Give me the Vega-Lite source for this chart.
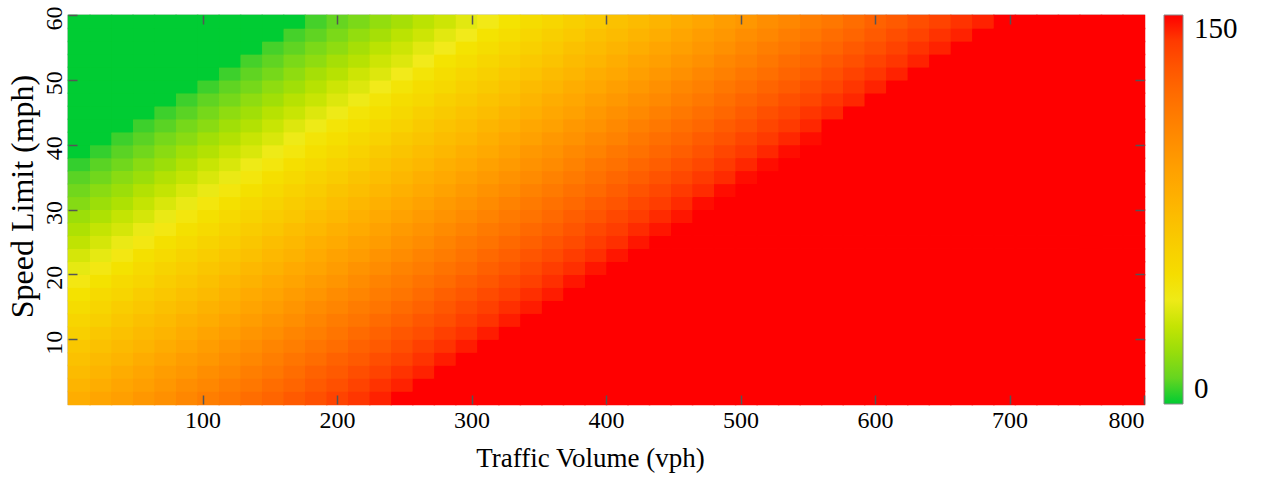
{
"$schema": "https://vega.github.io/schema/vega-lite/v6.json",
"autosize": "none",
"width": 1076,
"height": 389,
"padding": {"left": 68, "top": 15, "right": 117, "bottom": 74},
"background": "white",
"config": {
 "font": "Liberation Serif",
 "view": {"stroke": "#6e6e6e", "strokeWidth": 1.2},
 "axis": {"labelFont": "Liberation Serif", "titleFont": "Liberation Serif", "labelColor": "#000", "titleColor": "#000", "titleFontWeight": "normal", "domain": false, "grid": false, "tickColor": "#555", "tickWidth": 1.5, "tickSize": -9},
 "legend": {"labelFont": "Liberation Serif", "labelColor": "#000"}
},
"datasets": {"cells": [
{"x":8,"y":1,"v":82},{"x":24,"y":1,"v":87},{"x":40,"y":1,"v":91},{"x":56,"y":1,"v":96},{"x":72,"y":1,"v":100},{"x":88,"y":1,"v":105},{"x":104,"y":1,"v":110},{"x":120,"y":1,"v":114},{"x":136,"y":1,"v":119},{"x":152,"y":1,"v":123},{"x":168,"y":1,"v":128},{"x":184,"y":1,"v":132},{"x":200,"y":1,"v":137},{"x":216,"y":1,"v":141},{"x":232,"y":1,"v":146},{"x":248,"y":1,"v":150},{"x":264,"y":1,"v":150},{"x":280,"y":1,"v":150},{"x":296,"y":1,"v":150},{"x":312,"y":1,"v":150},{"x":328,"y":1,"v":150},{"x":344,"y":1,"v":150},{"x":360,"y":1,"v":150},{"x":376,"y":1,"v":150},{"x":392,"y":1,"v":150},{"x":408,"y":1,"v":150},{"x":424,"y":1,"v":150},{"x":440,"y":1,"v":150},{"x":456,"y":1,"v":150},{"x":472,"y":1,"v":150},{"x":488,"y":1,"v":150},{"x":504,"y":1,"v":150},{"x":520,"y":1,"v":150},{"x":536,"y":1,"v":150},{"x":552,"y":1,"v":150},{"x":568,"y":1,"v":150},{"x":584,"y":1,"v":150},{"x":600,"y":1,"v":150},{"x":616,"y":1,"v":150},{"x":632,"y":1,"v":150},{"x":648,"y":1,"v":150},{"x":664,"y":1,"v":150},{"x":680,"y":1,"v":150},{"x":696,"y":1,"v":150},{"x":712,"y":1,"v":150},{"x":728,"y":1,"v":150},{"x":744,"y":1,"v":150},{"x":760,"y":1,"v":150},{"x":776,"y":1,"v":150},{"x":792,"y":1,"v":150},
{"x":8,"y":3,"v":78},{"x":24,"y":3,"v":82},{"x":40,"y":3,"v":87},{"x":56,"y":3,"v":91},{"x":72,"y":3,"v":96},{"x":88,"y":3,"v":101},{"x":104,"y":3,"v":105},{"x":120,"y":3,"v":110},{"x":136,"y":3,"v":114},{"x":152,"y":3,"v":119},{"x":168,"y":3,"v":123},{"x":184,"y":3,"v":128},{"x":200,"y":3,"v":132},{"x":216,"y":3,"v":137},{"x":232,"y":3,"v":142},{"x":248,"y":3,"v":146},{"x":264,"y":3,"v":150},{"x":280,"y":3,"v":150},{"x":296,"y":3,"v":150},{"x":312,"y":3,"v":150},{"x":328,"y":3,"v":150},{"x":344,"y":3,"v":150},{"x":360,"y":3,"v":150},{"x":376,"y":3,"v":150},{"x":392,"y":3,"v":150},{"x":408,"y":3,"v":150},{"x":424,"y":3,"v":150},{"x":440,"y":3,"v":150},{"x":456,"y":3,"v":150},{"x":472,"y":3,"v":150},{"x":488,"y":3,"v":150},{"x":504,"y":3,"v":150},{"x":520,"y":3,"v":150},{"x":536,"y":3,"v":150},{"x":552,"y":3,"v":150},{"x":568,"y":3,"v":150},{"x":584,"y":3,"v":150},{"x":600,"y":3,"v":150},{"x":616,"y":3,"v":150},{"x":632,"y":3,"v":150},{"x":648,"y":3,"v":150},{"x":664,"y":3,"v":150},{"x":680,"y":3,"v":150},{"x":696,"y":3,"v":150},{"x":712,"y":3,"v":150},{"x":728,"y":3,"v":150},{"x":744,"y":3,"v":150},{"x":760,"y":3,"v":150},{"x":776,"y":3,"v":150},{"x":792,"y":3,"v":150},
{"x":8,"y":5,"v":73},{"x":24,"y":5,"v":78},{"x":40,"y":5,"v":83},{"x":56,"y":5,"v":87},{"x":72,"y":5,"v":92},{"x":88,"y":5,"v":96},{"x":104,"y":5,"v":101},{"x":120,"y":5,"v":105},{"x":136,"y":5,"v":110},{"x":152,"y":5,"v":114},{"x":168,"y":5,"v":119},{"x":184,"y":5,"v":124},{"x":200,"y":5,"v":128},{"x":216,"y":5,"v":133},{"x":232,"y":5,"v":137},{"x":248,"y":5,"v":142},{"x":264,"y":5,"v":146},{"x":280,"y":5,"v":150},{"x":296,"y":5,"v":150},{"x":312,"y":5,"v":150},{"x":328,"y":5,"v":150},{"x":344,"y":5,"v":150},{"x":360,"y":5,"v":150},{"x":376,"y":5,"v":150},{"x":392,"y":5,"v":150},{"x":408,"y":5,"v":150},{"x":424,"y":5,"v":150},{"x":440,"y":5,"v":150},{"x":456,"y":5,"v":150},{"x":472,"y":5,"v":150},{"x":488,"y":5,"v":150},{"x":504,"y":5,"v":150},{"x":520,"y":5,"v":150},{"x":536,"y":5,"v":150},{"x":552,"y":5,"v":150},{"x":568,"y":5,"v":150},{"x":584,"y":5,"v":150},{"x":600,"y":5,"v":150},{"x":616,"y":5,"v":150},{"x":632,"y":5,"v":150},{"x":648,"y":5,"v":150},{"x":664,"y":5,"v":150},{"x":680,"y":5,"v":150},{"x":696,"y":5,"v":150},{"x":712,"y":5,"v":150},{"x":728,"y":5,"v":150},{"x":744,"y":5,"v":150},{"x":760,"y":5,"v":150},{"x":776,"y":5,"v":150},{"x":792,"y":5,"v":150},
{"x":8,"y":7,"v":69},{"x":24,"y":7,"v":74},{"x":40,"y":7,"v":78},{"x":56,"y":7,"v":83},{"x":72,"y":7,"v":87},{"x":88,"y":7,"v":92},{"x":104,"y":7,"v":96},{"x":120,"y":7,"v":101},{"x":136,"y":7,"v":105},{"x":152,"y":7,"v":110},{"x":168,"y":7,"v":115},{"x":184,"y":7,"v":119},{"x":200,"y":7,"v":124},{"x":216,"y":7,"v":128},{"x":232,"y":7,"v":133},{"x":248,"y":7,"v":137},{"x":264,"y":7,"v":142},{"x":280,"y":7,"v":147},{"x":296,"y":7,"v":150},{"x":312,"y":7,"v":150},{"x":328,"y":7,"v":150},{"x":344,"y":7,"v":150},{"x":360,"y":7,"v":150},{"x":376,"y":7,"v":150},{"x":392,"y":7,"v":150},{"x":408,"y":7,"v":150},{"x":424,"y":7,"v":150},{"x":440,"y":7,"v":150},{"x":456,"y":7,"v":150},{"x":472,"y":7,"v":150},{"x":488,"y":7,"v":150},{"x":504,"y":7,"v":150},{"x":520,"y":7,"v":150},{"x":536,"y":7,"v":150},{"x":552,"y":7,"v":150},{"x":568,"y":7,"v":150},{"x":584,"y":7,"v":150},{"x":600,"y":7,"v":150},{"x":616,"y":7,"v":150},{"x":632,"y":7,"v":150},{"x":648,"y":7,"v":150},{"x":664,"y":7,"v":150},{"x":680,"y":7,"v":150},{"x":696,"y":7,"v":150},{"x":712,"y":7,"v":150},{"x":728,"y":7,"v":150},{"x":744,"y":7,"v":150},{"x":760,"y":7,"v":150},{"x":776,"y":7,"v":150},{"x":792,"y":7,"v":150},
{"x":8,"y":9,"v":65},{"x":24,"y":9,"v":69},{"x":40,"y":9,"v":74},{"x":56,"y":9,"v":78},{"x":72,"y":9,"v":83},{"x":88,"y":9,"v":87},{"x":104,"y":9,"v":92},{"x":120,"y":9,"v":97},{"x":136,"y":9,"v":101},{"x":152,"y":9,"v":106},{"x":168,"y":9,"v":110},{"x":184,"y":9,"v":115},{"x":200,"y":9,"v":119},{"x":216,"y":9,"v":124},{"x":232,"y":9,"v":128},{"x":248,"y":9,"v":133},{"x":264,"y":9,"v":138},{"x":280,"y":9,"v":142},{"x":296,"y":9,"v":147},{"x":312,"y":9,"v":150},{"x":328,"y":9,"v":150},{"x":344,"y":9,"v":150},{"x":360,"y":9,"v":150},{"x":376,"y":9,"v":150},{"x":392,"y":9,"v":150},{"x":408,"y":9,"v":150},{"x":424,"y":9,"v":150},{"x":440,"y":9,"v":150},{"x":456,"y":9,"v":150},{"x":472,"y":9,"v":150},{"x":488,"y":9,"v":150},{"x":504,"y":9,"v":150},{"x":520,"y":9,"v":150},{"x":536,"y":9,"v":150},{"x":552,"y":9,"v":150},{"x":568,"y":9,"v":150},{"x":584,"y":9,"v":150},{"x":600,"y":9,"v":150},{"x":616,"y":9,"v":150},{"x":632,"y":9,"v":150},{"x":648,"y":9,"v":150},{"x":664,"y":9,"v":150},{"x":680,"y":9,"v":150},{"x":696,"y":9,"v":150},{"x":712,"y":9,"v":150},{"x":728,"y":9,"v":150},{"x":744,"y":9,"v":150},{"x":760,"y":9,"v":150},{"x":776,"y":9,"v":150},{"x":792,"y":9,"v":150},
{"x":8,"y":11,"v":60},{"x":24,"y":11,"v":65},{"x":40,"y":11,"v":69},{"x":56,"y":11,"v":74},{"x":72,"y":11,"v":78},{"x":88,"y":11,"v":83},{"x":104,"y":11,"v":88},{"x":120,"y":11,"v":92},{"x":136,"y":11,"v":97},{"x":152,"y":11,"v":101},{"x":168,"y":11,"v":106},{"x":184,"y":11,"v":110},{"x":200,"y":11,"v":115},{"x":216,"y":11,"v":120},{"x":232,"y":11,"v":124},{"x":248,"y":11,"v":129},{"x":264,"y":11,"v":133},{"x":280,"y":11,"v":138},{"x":296,"y":11,"v":142},{"x":312,"y":11,"v":147},{"x":328,"y":11,"v":150},{"x":344,"y":11,"v":150},{"x":360,"y":11,"v":150},{"x":376,"y":11,"v":150},{"x":392,"y":11,"v":150},{"x":408,"y":11,"v":150},{"x":424,"y":11,"v":150},{"x":440,"y":11,"v":150},{"x":456,"y":11,"v":150},{"x":472,"y":11,"v":150},{"x":488,"y":11,"v":150},{"x":504,"y":11,"v":150},{"x":520,"y":11,"v":150},{"x":536,"y":11,"v":150},{"x":552,"y":11,"v":150},{"x":568,"y":11,"v":150},{"x":584,"y":11,"v":150},{"x":600,"y":11,"v":150},{"x":616,"y":11,"v":150},{"x":632,"y":11,"v":150},{"x":648,"y":11,"v":150},{"x":664,"y":11,"v":150},{"x":680,"y":11,"v":150},{"x":696,"y":11,"v":150},{"x":712,"y":11,"v":150},{"x":728,"y":11,"v":150},{"x":744,"y":11,"v":150},{"x":760,"y":11,"v":150},{"x":776,"y":11,"v":150},{"x":792,"y":11,"v":150},
{"x":8,"y":13,"v":56},{"x":24,"y":13,"v":60},{"x":40,"y":13,"v":65},{"x":56,"y":13,"v":70},{"x":72,"y":13,"v":74},{"x":88,"y":13,"v":79},{"x":104,"y":13,"v":83},{"x":120,"y":13,"v":88},{"x":136,"y":13,"v":92},{"x":152,"y":13,"v":97},{"x":168,"y":13,"v":101},{"x":184,"y":13,"v":106},{"x":200,"y":13,"v":111},{"x":216,"y":13,"v":115},{"x":232,"y":13,"v":120},{"x":248,"y":13,"v":124},{"x":264,"y":13,"v":129},{"x":280,"y":13,"v":133},{"x":296,"y":13,"v":138},{"x":312,"y":13,"v":142},{"x":328,"y":13,"v":147},{"x":344,"y":13,"v":150},{"x":360,"y":13,"v":150},{"x":376,"y":13,"v":150},{"x":392,"y":13,"v":150},{"x":408,"y":13,"v":150},{"x":424,"y":13,"v":150},{"x":440,"y":13,"v":150},{"x":456,"y":13,"v":150},{"x":472,"y":13,"v":150},{"x":488,"y":13,"v":150},{"x":504,"y":13,"v":150},{"x":520,"y":13,"v":150},{"x":536,"y":13,"v":150},{"x":552,"y":13,"v":150},{"x":568,"y":13,"v":150},{"x":584,"y":13,"v":150},{"x":600,"y":13,"v":150},{"x":616,"y":13,"v":150},{"x":632,"y":13,"v":150},{"x":648,"y":13,"v":150},{"x":664,"y":13,"v":150},{"x":680,"y":13,"v":150},{"x":696,"y":13,"v":150},{"x":712,"y":13,"v":150},{"x":728,"y":13,"v":150},{"x":744,"y":13,"v":150},{"x":760,"y":13,"v":150},{"x":776,"y":13,"v":150},{"x":792,"y":13,"v":150},
{"x":8,"y":15,"v":51},{"x":24,"y":15,"v":56},{"x":40,"y":15,"v":61},{"x":56,"y":15,"v":65},{"x":72,"y":15,"v":70},{"x":88,"y":15,"v":74},{"x":104,"y":15,"v":79},{"x":120,"y":15,"v":83},{"x":136,"y":15,"v":88},{"x":152,"y":15,"v":92},{"x":168,"y":15,"v":97},{"x":184,"y":15,"v":102},{"x":200,"y":15,"v":106},{"x":216,"y":15,"v":111},{"x":232,"y":15,"v":115},{"x":248,"y":15,"v":120},{"x":264,"y":15,"v":124},{"x":280,"y":15,"v":129},{"x":296,"y":15,"v":134},{"x":312,"y":15,"v":138},{"x":328,"y":15,"v":143},{"x":344,"y":15,"v":147},{"x":360,"y":15,"v":150},{"x":376,"y":15,"v":150},{"x":392,"y":15,"v":150},{"x":408,"y":15,"v":150},{"x":424,"y":15,"v":150},{"x":440,"y":15,"v":150},{"x":456,"y":15,"v":150},{"x":472,"y":15,"v":150},{"x":488,"y":15,"v":150},{"x":504,"y":15,"v":150},{"x":520,"y":15,"v":150},{"x":536,"y":15,"v":150},{"x":552,"y":15,"v":150},{"x":568,"y":15,"v":150},{"x":584,"y":15,"v":150},{"x":600,"y":15,"v":150},{"x":616,"y":15,"v":150},{"x":632,"y":15,"v":150},{"x":648,"y":15,"v":150},{"x":664,"y":15,"v":150},{"x":680,"y":15,"v":150},{"x":696,"y":15,"v":150},{"x":712,"y":15,"v":150},{"x":728,"y":15,"v":150},{"x":744,"y":15,"v":150},{"x":760,"y":15,"v":150},{"x":776,"y":15,"v":150},{"x":792,"y":15,"v":150},
{"x":8,"y":17,"v":47},{"x":24,"y":17,"v":52},{"x":40,"y":17,"v":56},{"x":56,"y":17,"v":61},{"x":72,"y":17,"v":65},{"x":88,"y":17,"v":70},{"x":104,"y":17,"v":74},{"x":120,"y":17,"v":79},{"x":136,"y":17,"v":84},{"x":152,"y":17,"v":88},{"x":168,"y":17,"v":93},{"x":184,"y":17,"v":97},{"x":200,"y":17,"v":102},{"x":216,"y":17,"v":106},{"x":232,"y":17,"v":111},{"x":248,"y":17,"v":115},{"x":264,"y":17,"v":120},{"x":280,"y":17,"v":125},{"x":296,"y":17,"v":129},{"x":312,"y":17,"v":134},{"x":328,"y":17,"v":138},{"x":344,"y":17,"v":143},{"x":360,"y":17,"v":147},{"x":376,"y":17,"v":150},{"x":392,"y":17,"v":150},{"x":408,"y":17,"v":150},{"x":424,"y":17,"v":150},{"x":440,"y":17,"v":150},{"x":456,"y":17,"v":150},{"x":472,"y":17,"v":150},{"x":488,"y":17,"v":150},{"x":504,"y":17,"v":150},{"x":520,"y":17,"v":150},{"x":536,"y":17,"v":150},{"x":552,"y":17,"v":150},{"x":568,"y":17,"v":150},{"x":584,"y":17,"v":150},{"x":600,"y":17,"v":150},{"x":616,"y":17,"v":150},{"x":632,"y":17,"v":150},{"x":648,"y":17,"v":150},{"x":664,"y":17,"v":150},{"x":680,"y":17,"v":150},{"x":696,"y":17,"v":150},{"x":712,"y":17,"v":150},{"x":728,"y":17,"v":150},{"x":744,"y":17,"v":150},{"x":760,"y":17,"v":150},{"x":776,"y":17,"v":150},{"x":792,"y":17,"v":150},
{"x":8,"y":19,"v":43},{"x":24,"y":19,"v":47},{"x":40,"y":19,"v":52},{"x":56,"y":19,"v":56},{"x":72,"y":19,"v":61},{"x":88,"y":19,"v":65},{"x":104,"y":19,"v":70},{"x":120,"y":19,"v":75},{"x":136,"y":19,"v":79},{"x":152,"y":19,"v":84},{"x":168,"y":19,"v":88},{"x":184,"y":19,"v":93},{"x":200,"y":19,"v":97},{"x":216,"y":19,"v":102},{"x":232,"y":19,"v":107},{"x":248,"y":19,"v":111},{"x":264,"y":19,"v":116},{"x":280,"y":19,"v":120},{"x":296,"y":19,"v":125},{"x":312,"y":19,"v":129},{"x":328,"y":19,"v":134},{"x":344,"y":19,"v":138},{"x":360,"y":19,"v":143},{"x":376,"y":19,"v":148},{"x":392,"y":19,"v":150},{"x":408,"y":19,"v":150},{"x":424,"y":19,"v":150},{"x":440,"y":19,"v":150},{"x":456,"y":19,"v":150},{"x":472,"y":19,"v":150},{"x":488,"y":19,"v":150},{"x":504,"y":19,"v":150},{"x":520,"y":19,"v":150},{"x":536,"y":19,"v":150},{"x":552,"y":19,"v":150},{"x":568,"y":19,"v":150},{"x":584,"y":19,"v":150},{"x":600,"y":19,"v":150},{"x":616,"y":19,"v":150},{"x":632,"y":19,"v":150},{"x":648,"y":19,"v":150},{"x":664,"y":19,"v":150},{"x":680,"y":19,"v":150},{"x":696,"y":19,"v":150},{"x":712,"y":19,"v":150},{"x":728,"y":19,"v":150},{"x":744,"y":19,"v":150},{"x":760,"y":19,"v":150},{"x":776,"y":19,"v":150},{"x":792,"y":19,"v":150},
{"x":8,"y":21,"v":38},{"x":24,"y":21,"v":43},{"x":40,"y":21,"v":47},{"x":56,"y":21,"v":52},{"x":72,"y":21,"v":57},{"x":88,"y":21,"v":61},{"x":104,"y":21,"v":66},{"x":120,"y":21,"v":70},{"x":136,"y":21,"v":75},{"x":152,"y":21,"v":79},{"x":168,"y":21,"v":84},{"x":184,"y":21,"v":88},{"x":200,"y":21,"v":93},{"x":216,"y":21,"v":98},{"x":232,"y":21,"v":102},{"x":248,"y":21,"v":107},{"x":264,"y":21,"v":111},{"x":280,"y":21,"v":116},{"x":296,"y":21,"v":120},{"x":312,"y":21,"v":125},{"x":328,"y":21,"v":129},{"x":344,"y":21,"v":134},{"x":360,"y":21,"v":139},{"x":376,"y":21,"v":143},{"x":392,"y":21,"v":148},{"x":408,"y":21,"v":150},{"x":424,"y":21,"v":150},{"x":440,"y":21,"v":150},{"x":456,"y":21,"v":150},{"x":472,"y":21,"v":150},{"x":488,"y":21,"v":150},{"x":504,"y":21,"v":150},{"x":520,"y":21,"v":150},{"x":536,"y":21,"v":150},{"x":552,"y":21,"v":150},{"x":568,"y":21,"v":150},{"x":584,"y":21,"v":150},{"x":600,"y":21,"v":150},{"x":616,"y":21,"v":150},{"x":632,"y":21,"v":150},{"x":648,"y":21,"v":150},{"x":664,"y":21,"v":150},{"x":680,"y":21,"v":150},{"x":696,"y":21,"v":150},{"x":712,"y":21,"v":150},{"x":728,"y":21,"v":150},{"x":744,"y":21,"v":150},{"x":760,"y":21,"v":150},{"x":776,"y":21,"v":150},{"x":792,"y":21,"v":150},
{"x":8,"y":23,"v":34},{"x":24,"y":23,"v":38},{"x":40,"y":23,"v":43},{"x":56,"y":23,"v":48},{"x":72,"y":23,"v":52},{"x":88,"y":23,"v":57},{"x":104,"y":23,"v":61},{"x":120,"y":23,"v":66},{"x":136,"y":23,"v":70},{"x":152,"y":23,"v":75},{"x":168,"y":23,"v":79},{"x":184,"y":23,"v":84},{"x":200,"y":23,"v":89},{"x":216,"y":23,"v":93},{"x":232,"y":23,"v":98},{"x":248,"y":23,"v":102},{"x":264,"y":23,"v":107},{"x":280,"y":23,"v":111},{"x":296,"y":23,"v":116},{"x":312,"y":23,"v":121},{"x":328,"y":23,"v":125},{"x":344,"y":23,"v":130},{"x":360,"y":23,"v":134},{"x":376,"y":23,"v":139},{"x":392,"y":23,"v":143},{"x":408,"y":23,"v":148},{"x":424,"y":23,"v":150},{"x":440,"y":23,"v":150},{"x":456,"y":23,"v":150},{"x":472,"y":23,"v":150},{"x":488,"y":23,"v":150},{"x":504,"y":23,"v":150},{"x":520,"y":23,"v":150},{"x":536,"y":23,"v":150},{"x":552,"y":23,"v":150},{"x":568,"y":23,"v":150},{"x":584,"y":23,"v":150},{"x":600,"y":23,"v":150},{"x":616,"y":23,"v":150},{"x":632,"y":23,"v":150},{"x":648,"y":23,"v":150},{"x":664,"y":23,"v":150},{"x":680,"y":23,"v":150},{"x":696,"y":23,"v":150},{"x":712,"y":23,"v":150},{"x":728,"y":23,"v":150},{"x":744,"y":23,"v":150},{"x":760,"y":23,"v":150},{"x":776,"y":23,"v":150},{"x":792,"y":23,"v":150},
{"x":8,"y":25,"v":29},{"x":24,"y":25,"v":34},{"x":40,"y":25,"v":39},{"x":56,"y":25,"v":43},{"x":72,"y":25,"v":48},{"x":88,"y":25,"v":52},{"x":104,"y":25,"v":57},{"x":120,"y":25,"v":61},{"x":136,"y":25,"v":66},{"x":152,"y":25,"v":71},{"x":168,"y":25,"v":75},{"x":184,"y":25,"v":80},{"x":200,"y":25,"v":84},{"x":216,"y":25,"v":89},{"x":232,"y":25,"v":93},{"x":248,"y":25,"v":98},{"x":264,"y":25,"v":102},{"x":280,"y":25,"v":107},{"x":296,"y":25,"v":112},{"x":312,"y":25,"v":116},{"x":328,"y":25,"v":121},{"x":344,"y":25,"v":125},{"x":360,"y":25,"v":130},{"x":376,"y":25,"v":134},{"x":392,"y":25,"v":139},{"x":408,"y":25,"v":143},{"x":424,"y":25,"v":148},{"x":440,"y":25,"v":150},{"x":456,"y":25,"v":150},{"x":472,"y":25,"v":150},{"x":488,"y":25,"v":150},{"x":504,"y":25,"v":150},{"x":520,"y":25,"v":150},{"x":536,"y":25,"v":150},{"x":552,"y":25,"v":150},{"x":568,"y":25,"v":150},{"x":584,"y":25,"v":150},{"x":600,"y":25,"v":150},{"x":616,"y":25,"v":150},{"x":632,"y":25,"v":150},{"x":648,"y":25,"v":150},{"x":664,"y":25,"v":150},{"x":680,"y":25,"v":150},{"x":696,"y":25,"v":150},{"x":712,"y":25,"v":150},{"x":728,"y":25,"v":150},{"x":744,"y":25,"v":150},{"x":760,"y":25,"v":150},{"x":776,"y":25,"v":150},{"x":792,"y":25,"v":150},
{"x":8,"y":27,"v":25},{"x":24,"y":27,"v":30},{"x":40,"y":27,"v":34},{"x":56,"y":27,"v":39},{"x":72,"y":27,"v":43},{"x":88,"y":27,"v":48},{"x":104,"y":27,"v":52},{"x":120,"y":27,"v":57},{"x":136,"y":27,"v":62},{"x":152,"y":27,"v":66},{"x":168,"y":27,"v":71},{"x":184,"y":27,"v":75},{"x":200,"y":27,"v":80},{"x":216,"y":27,"v":84},{"x":232,"y":27,"v":89},{"x":248,"y":27,"v":94},{"x":264,"y":27,"v":98},{"x":280,"y":27,"v":103},{"x":296,"y":27,"v":107},{"x":312,"y":27,"v":112},{"x":328,"y":27,"v":116},{"x":344,"y":27,"v":121},{"x":360,"y":27,"v":125},{"x":376,"y":27,"v":130},{"x":392,"y":27,"v":135},{"x":408,"y":27,"v":139},{"x":424,"y":27,"v":144},{"x":440,"y":27,"v":148},{"x":456,"y":27,"v":150},{"x":472,"y":27,"v":150},{"x":488,"y":27,"v":150},{"x":504,"y":27,"v":150},{"x":520,"y":27,"v":150},{"x":536,"y":27,"v":150},{"x":552,"y":27,"v":150},{"x":568,"y":27,"v":150},{"x":584,"y":27,"v":150},{"x":600,"y":27,"v":150},{"x":616,"y":27,"v":150},{"x":632,"y":27,"v":150},{"x":648,"y":27,"v":150},{"x":664,"y":27,"v":150},{"x":680,"y":27,"v":150},{"x":696,"y":27,"v":150},{"x":712,"y":27,"v":150},{"x":728,"y":27,"v":150},{"x":744,"y":27,"v":150},{"x":760,"y":27,"v":150},{"x":776,"y":27,"v":150},{"x":792,"y":27,"v":150},
{"x":8,"y":29,"v":21},{"x":24,"y":29,"v":25},{"x":40,"y":29,"v":30},{"x":56,"y":29,"v":34},{"x":72,"y":29,"v":39},{"x":88,"y":29,"v":44},{"x":104,"y":29,"v":48},{"x":120,"y":29,"v":53},{"x":136,"y":29,"v":57},{"x":152,"y":29,"v":62},{"x":168,"y":29,"v":66},{"x":184,"y":29,"v":71},{"x":200,"y":29,"v":75},{"x":216,"y":29,"v":80},{"x":232,"y":29,"v":85},{"x":248,"y":29,"v":89},{"x":264,"y":29,"v":94},{"x":280,"y":29,"v":98},{"x":296,"y":29,"v":103},{"x":312,"y":29,"v":107},{"x":328,"y":29,"v":112},{"x":344,"y":29,"v":116},{"x":360,"y":29,"v":121},{"x":376,"y":29,"v":126},{"x":392,"y":29,"v":130},{"x":408,"y":29,"v":135},{"x":424,"y":29,"v":139},{"x":440,"y":29,"v":144},{"x":456,"y":29,"v":148},{"x":472,"y":29,"v":150},{"x":488,"y":29,"v":150},{"x":504,"y":29,"v":150},{"x":520,"y":29,"v":150},{"x":536,"y":29,"v":150},{"x":552,"y":29,"v":150},{"x":568,"y":29,"v":150},{"x":584,"y":29,"v":150},{"x":600,"y":29,"v":150},{"x":616,"y":29,"v":150},{"x":632,"y":29,"v":150},{"x":648,"y":29,"v":150},{"x":664,"y":29,"v":150},{"x":680,"y":29,"v":150},{"x":696,"y":29,"v":150},{"x":712,"y":29,"v":150},{"x":728,"y":29,"v":150},{"x":744,"y":29,"v":150},{"x":760,"y":29,"v":150},{"x":776,"y":29,"v":150},{"x":792,"y":29,"v":150},
{"x":8,"y":31,"v":16},{"x":24,"y":31,"v":21},{"x":40,"y":31,"v":25},{"x":56,"y":31,"v":30},{"x":72,"y":31,"v":35},{"x":88,"y":31,"v":39},{"x":104,"y":31,"v":44},{"x":120,"y":31,"v":48},{"x":136,"y":31,"v":53},{"x":152,"y":31,"v":57},{"x":168,"y":31,"v":62},{"x":184,"y":31,"v":66},{"x":200,"y":31,"v":71},{"x":216,"y":31,"v":76},{"x":232,"y":31,"v":80},{"x":248,"y":31,"v":85},{"x":264,"y":31,"v":89},{"x":280,"y":31,"v":94},{"x":296,"y":31,"v":98},{"x":312,"y":31,"v":103},{"x":328,"y":31,"v":108},{"x":344,"y":31,"v":112},{"x":360,"y":31,"v":117},{"x":376,"y":31,"v":121},{"x":392,"y":31,"v":126},{"x":408,"y":31,"v":130},{"x":424,"y":31,"v":135},{"x":440,"y":31,"v":139},{"x":456,"y":31,"v":144},{"x":472,"y":31,"v":149},{"x":488,"y":31,"v":150},{"x":504,"y":31,"v":150},{"x":520,"y":31,"v":150},{"x":536,"y":31,"v":150},{"x":552,"y":31,"v":150},{"x":568,"y":31,"v":150},{"x":584,"y":31,"v":150},{"x":600,"y":31,"v":150},{"x":616,"y":31,"v":150},{"x":632,"y":31,"v":150},{"x":648,"y":31,"v":150},{"x":664,"y":31,"v":150},{"x":680,"y":31,"v":150},{"x":696,"y":31,"v":150},{"x":712,"y":31,"v":150},{"x":728,"y":31,"v":150},{"x":744,"y":31,"v":150},{"x":760,"y":31,"v":150},{"x":776,"y":31,"v":150},{"x":792,"y":31,"v":150},
{"x":8,"y":33,"v":12},{"x":24,"y":33,"v":17},{"x":40,"y":33,"v":21},{"x":56,"y":33,"v":26},{"x":72,"y":33,"v":30},{"x":88,"y":33,"v":35},{"x":104,"y":33,"v":39},{"x":120,"y":33,"v":44},{"x":136,"y":33,"v":48},{"x":152,"y":33,"v":53},{"x":168,"y":33,"v":58},{"x":184,"y":33,"v":62},{"x":200,"y":33,"v":67},{"x":216,"y":33,"v":71},{"x":232,"y":33,"v":76},{"x":248,"y":33,"v":80},{"x":264,"y":33,"v":85},{"x":280,"y":33,"v":89},{"x":296,"y":33,"v":94},{"x":312,"y":33,"v":99},{"x":328,"y":33,"v":103},{"x":344,"y":33,"v":108},{"x":360,"y":33,"v":112},{"x":376,"y":33,"v":117},{"x":392,"y":33,"v":121},{"x":408,"y":33,"v":126},{"x":424,"y":33,"v":131},{"x":440,"y":33,"v":135},{"x":456,"y":33,"v":140},{"x":472,"y":33,"v":144},{"x":488,"y":33,"v":149},{"x":504,"y":33,"v":150},{"x":520,"y":33,"v":150},{"x":536,"y":33,"v":150},{"x":552,"y":33,"v":150},{"x":568,"y":33,"v":150},{"x":584,"y":33,"v":150},{"x":600,"y":33,"v":150},{"x":616,"y":33,"v":150},{"x":632,"y":33,"v":150},{"x":648,"y":33,"v":150},{"x":664,"y":33,"v":150},{"x":680,"y":33,"v":150},{"x":696,"y":33,"v":150},{"x":712,"y":33,"v":150},{"x":728,"y":33,"v":150},{"x":744,"y":33,"v":150},{"x":760,"y":33,"v":150},{"x":776,"y":33,"v":150},{"x":792,"y":33,"v":150},
{"x":8,"y":35,"v":8},{"x":24,"y":35,"v":12},{"x":40,"y":35,"v":17},{"x":56,"y":35,"v":21},{"x":72,"y":35,"v":26},{"x":88,"y":35,"v":30},{"x":104,"y":35,"v":35},{"x":120,"y":35,"v":39},{"x":136,"y":35,"v":44},{"x":152,"y":35,"v":49},{"x":168,"y":35,"v":53},{"x":184,"y":35,"v":58},{"x":200,"y":35,"v":62},{"x":216,"y":35,"v":67},{"x":232,"y":35,"v":71},{"x":248,"y":35,"v":76},{"x":264,"y":35,"v":81},{"x":280,"y":35,"v":85},{"x":296,"y":35,"v":90},{"x":312,"y":35,"v":94},{"x":328,"y":35,"v":99},{"x":344,"y":35,"v":103},{"x":360,"y":35,"v":108},{"x":376,"y":35,"v":112},{"x":392,"y":35,"v":117},{"x":408,"y":35,"v":122},{"x":424,"y":35,"v":126},{"x":440,"y":35,"v":131},{"x":456,"y":35,"v":135},{"x":472,"y":35,"v":140},{"x":488,"y":35,"v":144},{"x":504,"y":35,"v":149},{"x":520,"y":35,"v":150},{"x":536,"y":35,"v":150},{"x":552,"y":35,"v":150},{"x":568,"y":35,"v":150},{"x":584,"y":35,"v":150},{"x":600,"y":35,"v":150},{"x":616,"y":35,"v":150},{"x":632,"y":35,"v":150},{"x":648,"y":35,"v":150},{"x":664,"y":35,"v":150},{"x":680,"y":35,"v":150},{"x":696,"y":35,"v":150},{"x":712,"y":35,"v":150},{"x":728,"y":35,"v":150},{"x":744,"y":35,"v":150},{"x":760,"y":35,"v":150},{"x":776,"y":35,"v":150},{"x":792,"y":35,"v":150},
{"x":8,"y":37,"v":3},{"x":24,"y":37,"v":8},{"x":40,"y":37,"v":12},{"x":56,"y":37,"v":17},{"x":72,"y":37,"v":21},{"x":88,"y":37,"v":26},{"x":104,"y":37,"v":31},{"x":120,"y":37,"v":35},{"x":136,"y":37,"v":40},{"x":152,"y":37,"v":44},{"x":168,"y":37,"v":49},{"x":184,"y":37,"v":53},{"x":200,"y":37,"v":58},{"x":216,"y":37,"v":62},{"x":232,"y":37,"v":67},{"x":248,"y":37,"v":72},{"x":264,"y":37,"v":76},{"x":280,"y":37,"v":81},{"x":296,"y":37,"v":85},{"x":312,"y":37,"v":90},{"x":328,"y":37,"v":94},{"x":344,"y":37,"v":99},{"x":360,"y":37,"v":103},{"x":376,"y":37,"v":108},{"x":392,"y":37,"v":113},{"x":408,"y":37,"v":117},{"x":424,"y":37,"v":122},{"x":440,"y":37,"v":126},{"x":456,"y":37,"v":131},{"x":472,"y":37,"v":135},{"x":488,"y":37,"v":140},{"x":504,"y":37,"v":145},{"x":520,"y":37,"v":149},{"x":536,"y":37,"v":150},{"x":552,"y":37,"v":150},{"x":568,"y":37,"v":150},{"x":584,"y":37,"v":150},{"x":600,"y":37,"v":150},{"x":616,"y":37,"v":150},{"x":632,"y":37,"v":150},{"x":648,"y":37,"v":150},{"x":664,"y":37,"v":150},{"x":680,"y":37,"v":150},{"x":696,"y":37,"v":150},{"x":712,"y":37,"v":150},{"x":728,"y":37,"v":150},{"x":744,"y":37,"v":150},{"x":760,"y":37,"v":150},{"x":776,"y":37,"v":150},{"x":792,"y":37,"v":150},
{"x":8,"y":39,"v":0},{"x":24,"y":39,"v":3},{"x":40,"y":39,"v":8},{"x":56,"y":39,"v":12},{"x":72,"y":39,"v":17},{"x":88,"y":39,"v":22},{"x":104,"y":39,"v":26},{"x":120,"y":39,"v":31},{"x":136,"y":39,"v":35},{"x":152,"y":39,"v":40},{"x":168,"y":39,"v":44},{"x":184,"y":39,"v":49},{"x":200,"y":39,"v":53},{"x":216,"y":39,"v":58},{"x":232,"y":39,"v":63},{"x":248,"y":39,"v":67},{"x":264,"y":39,"v":72},{"x":280,"y":39,"v":76},{"x":296,"y":39,"v":81},{"x":312,"y":39,"v":85},{"x":328,"y":39,"v":90},{"x":344,"y":39,"v":95},{"x":360,"y":39,"v":99},{"x":376,"y":39,"v":104},{"x":392,"y":39,"v":108},{"x":408,"y":39,"v":113},{"x":424,"y":39,"v":117},{"x":440,"y":39,"v":122},{"x":456,"y":39,"v":126},{"x":472,"y":39,"v":131},{"x":488,"y":39,"v":136},{"x":504,"y":39,"v":140},{"x":520,"y":39,"v":145},{"x":536,"y":39,"v":149},{"x":552,"y":39,"v":150},{"x":568,"y":39,"v":150},{"x":584,"y":39,"v":150},{"x":600,"y":39,"v":150},{"x":616,"y":39,"v":150},{"x":632,"y":39,"v":150},{"x":648,"y":39,"v":150},{"x":664,"y":39,"v":150},{"x":680,"y":39,"v":150},{"x":696,"y":39,"v":150},{"x":712,"y":39,"v":150},{"x":728,"y":39,"v":150},{"x":744,"y":39,"v":150},{"x":760,"y":39,"v":150},{"x":776,"y":39,"v":150},{"x":792,"y":39,"v":150},
{"x":8,"y":41,"v":0},{"x":24,"y":41,"v":0},{"x":40,"y":41,"v":4},{"x":56,"y":41,"v":8},{"x":72,"y":41,"v":13},{"x":88,"y":41,"v":17},{"x":104,"y":41,"v":22},{"x":120,"y":41,"v":26},{"x":136,"y":41,"v":31},{"x":152,"y":41,"v":35},{"x":168,"y":41,"v":40},{"x":184,"y":41,"v":45},{"x":200,"y":41,"v":49},{"x":216,"y":41,"v":54},{"x":232,"y":41,"v":58},{"x":248,"y":41,"v":63},{"x":264,"y":41,"v":67},{"x":280,"y":41,"v":72},{"x":296,"y":41,"v":76},{"x":312,"y":41,"v":81},{"x":328,"y":41,"v":86},{"x":344,"y":41,"v":90},{"x":360,"y":41,"v":95},{"x":376,"y":41,"v":99},{"x":392,"y":41,"v":104},{"x":408,"y":41,"v":108},{"x":424,"y":41,"v":113},{"x":440,"y":41,"v":118},{"x":456,"y":41,"v":122},{"x":472,"y":41,"v":127},{"x":488,"y":41,"v":131},{"x":504,"y":41,"v":136},{"x":520,"y":41,"v":140},{"x":536,"y":41,"v":145},{"x":552,"y":41,"v":149},{"x":568,"y":41,"v":150},{"x":584,"y":41,"v":150},{"x":600,"y":41,"v":150},{"x":616,"y":41,"v":150},{"x":632,"y":41,"v":150},{"x":648,"y":41,"v":150},{"x":664,"y":41,"v":150},{"x":680,"y":41,"v":150},{"x":696,"y":41,"v":150},{"x":712,"y":41,"v":150},{"x":728,"y":41,"v":150},{"x":744,"y":41,"v":150},{"x":760,"y":41,"v":150},{"x":776,"y":41,"v":150},{"x":792,"y":41,"v":150},
{"x":8,"y":43,"v":0},{"x":24,"y":43,"v":0},{"x":40,"y":43,"v":0},{"x":56,"y":43,"v":4},{"x":72,"y":43,"v":8},{"x":88,"y":43,"v":13},{"x":104,"y":43,"v":17},{"x":120,"y":43,"v":22},{"x":136,"y":43,"v":26},{"x":152,"y":43,"v":31},{"x":168,"y":43,"v":36},{"x":184,"y":43,"v":40},{"x":200,"y":43,"v":45},{"x":216,"y":43,"v":49},{"x":232,"y":43,"v":54},{"x":248,"y":43,"v":58},{"x":264,"y":43,"v":63},{"x":280,"y":43,"v":68},{"x":296,"y":43,"v":72},{"x":312,"y":43,"v":77},{"x":328,"y":43,"v":81},{"x":344,"y":43,"v":86},{"x":360,"y":43,"v":90},{"x":376,"y":43,"v":95},{"x":392,"y":43,"v":99},{"x":408,"y":43,"v":104},{"x":424,"y":43,"v":109},{"x":440,"y":43,"v":113},{"x":456,"y":43,"v":118},{"x":472,"y":43,"v":122},{"x":488,"y":43,"v":127},{"x":504,"y":43,"v":131},{"x":520,"y":43,"v":136},{"x":536,"y":43,"v":140},{"x":552,"y":43,"v":145},{"x":568,"y":43,"v":150},{"x":584,"y":43,"v":150},{"x":600,"y":43,"v":150},{"x":616,"y":43,"v":150},{"x":632,"y":43,"v":150},{"x":648,"y":43,"v":150},{"x":664,"y":43,"v":150},{"x":680,"y":43,"v":150},{"x":696,"y":43,"v":150},{"x":712,"y":43,"v":150},{"x":728,"y":43,"v":150},{"x":744,"y":43,"v":150},{"x":760,"y":43,"v":150},{"x":776,"y":43,"v":150},{"x":792,"y":43,"v":150},
{"x":8,"y":45,"v":0},{"x":24,"y":45,"v":0},{"x":40,"y":45,"v":0},{"x":56,"y":45,"v":0},{"x":72,"y":45,"v":4},{"x":88,"y":45,"v":8},{"x":104,"y":45,"v":13},{"x":120,"y":45,"v":18},{"x":136,"y":45,"v":22},{"x":152,"y":45,"v":27},{"x":168,"y":45,"v":31},{"x":184,"y":45,"v":36},{"x":200,"y":45,"v":40},{"x":216,"y":45,"v":45},{"x":232,"y":45,"v":49},{"x":248,"y":45,"v":54},{"x":264,"y":45,"v":59},{"x":280,"y":45,"v":63},{"x":296,"y":45,"v":68},{"x":312,"y":45,"v":72},{"x":328,"y":45,"v":77},{"x":344,"y":45,"v":81},{"x":360,"y":45,"v":86},{"x":376,"y":45,"v":90},{"x":392,"y":45,"v":95},{"x":408,"y":45,"v":100},{"x":424,"y":45,"v":104},{"x":440,"y":45,"v":109},{"x":456,"y":45,"v":113},{"x":472,"y":45,"v":118},{"x":488,"y":45,"v":122},{"x":504,"y":45,"v":127},{"x":520,"y":45,"v":132},{"x":536,"y":45,"v":136},{"x":552,"y":45,"v":141},{"x":568,"y":45,"v":145},{"x":584,"y":45,"v":150},{"x":600,"y":45,"v":150},{"x":616,"y":45,"v":150},{"x":632,"y":45,"v":150},{"x":648,"y":45,"v":150},{"x":664,"y":45,"v":150},{"x":680,"y":45,"v":150},{"x":696,"y":45,"v":150},{"x":712,"y":45,"v":150},{"x":728,"y":45,"v":150},{"x":744,"y":45,"v":150},{"x":760,"y":45,"v":150},{"x":776,"y":45,"v":150},{"x":792,"y":45,"v":150},
{"x":8,"y":47,"v":0},{"x":24,"y":47,"v":0},{"x":40,"y":47,"v":0},{"x":56,"y":47,"v":0},{"x":72,"y":47,"v":0},{"x":88,"y":47,"v":4},{"x":104,"y":47,"v":9},{"x":120,"y":47,"v":13},{"x":136,"y":47,"v":18},{"x":152,"y":47,"v":22},{"x":168,"y":47,"v":27},{"x":184,"y":47,"v":31},{"x":200,"y":47,"v":36},{"x":216,"y":47,"v":40},{"x":232,"y":47,"v":45},{"x":248,"y":47,"v":50},{"x":264,"y":47,"v":54},{"x":280,"y":47,"v":59},{"x":296,"y":47,"v":63},{"x":312,"y":47,"v":68},{"x":328,"y":47,"v":72},{"x":344,"y":47,"v":77},{"x":360,"y":47,"v":82},{"x":376,"y":47,"v":86},{"x":392,"y":47,"v":91},{"x":408,"y":47,"v":95},{"x":424,"y":47,"v":100},{"x":440,"y":47,"v":104},{"x":456,"y":47,"v":109},{"x":472,"y":47,"v":113},{"x":488,"y":47,"v":118},{"x":504,"y":47,"v":123},{"x":520,"y":47,"v":127},{"x":536,"y":47,"v":132},{"x":552,"y":47,"v":136},{"x":568,"y":47,"v":141},{"x":584,"y":47,"v":145},{"x":600,"y":47,"v":150},{"x":616,"y":47,"v":150},{"x":632,"y":47,"v":150},{"x":648,"y":47,"v":150},{"x":664,"y":47,"v":150},{"x":680,"y":47,"v":150},{"x":696,"y":47,"v":150},{"x":712,"y":47,"v":150},{"x":728,"y":47,"v":150},{"x":744,"y":47,"v":150},{"x":760,"y":47,"v":150},{"x":776,"y":47,"v":150},{"x":792,"y":47,"v":150},
{"x":8,"y":49,"v":0},{"x":24,"y":49,"v":0},{"x":40,"y":49,"v":0},{"x":56,"y":49,"v":0},{"x":72,"y":49,"v":0},{"x":88,"y":49,"v":0},{"x":104,"y":49,"v":4},{"x":120,"y":49,"v":9},{"x":136,"y":49,"v":13},{"x":152,"y":49,"v":18},{"x":168,"y":49,"v":22},{"x":184,"y":49,"v":27},{"x":200,"y":49,"v":32},{"x":216,"y":49,"v":36},{"x":232,"y":49,"v":41},{"x":248,"y":49,"v":45},{"x":264,"y":49,"v":50},{"x":280,"y":49,"v":54},{"x":296,"y":49,"v":59},{"x":312,"y":49,"v":63},{"x":328,"y":49,"v":68},{"x":344,"y":49,"v":73},{"x":360,"y":49,"v":77},{"x":376,"y":49,"v":82},{"x":392,"y":49,"v":86},{"x":408,"y":49,"v":91},{"x":424,"y":49,"v":95},{"x":440,"y":49,"v":100},{"x":456,"y":49,"v":105},{"x":472,"y":49,"v":109},{"x":488,"y":49,"v":114},{"x":504,"y":49,"v":118},{"x":520,"y":49,"v":123},{"x":536,"y":49,"v":127},{"x":552,"y":49,"v":132},{"x":568,"y":49,"v":136},{"x":584,"y":49,"v":141},{"x":600,"y":49,"v":146},{"x":616,"y":49,"v":150},{"x":632,"y":49,"v":150},{"x":648,"y":49,"v":150},{"x":664,"y":49,"v":150},{"x":680,"y":49,"v":150},{"x":696,"y":49,"v":150},{"x":712,"y":49,"v":150},{"x":728,"y":49,"v":150},{"x":744,"y":49,"v":150},{"x":760,"y":49,"v":150},{"x":776,"y":49,"v":150},{"x":792,"y":49,"v":150},
{"x":8,"y":51,"v":0},{"x":24,"y":51,"v":0},{"x":40,"y":51,"v":0},{"x":56,"y":51,"v":0},{"x":72,"y":51,"v":0},{"x":88,"y":51,"v":0},{"x":104,"y":51,"v":0},{"x":120,"y":51,"v":4},{"x":136,"y":51,"v":9},{"x":152,"y":51,"v":13},{"x":168,"y":51,"v":18},{"x":184,"y":51,"v":23},{"x":200,"y":51,"v":27},{"x":216,"y":51,"v":32},{"x":232,"y":51,"v":36},{"x":248,"y":51,"v":41},{"x":264,"y":51,"v":45},{"x":280,"y":51,"v":50},{"x":296,"y":51,"v":55},{"x":312,"y":51,"v":59},{"x":328,"y":51,"v":64},{"x":344,"y":51,"v":68},{"x":360,"y":51,"v":73},{"x":376,"y":51,"v":77},{"x":392,"y":51,"v":82},{"x":408,"y":51,"v":86},{"x":424,"y":51,"v":91},{"x":440,"y":51,"v":96},{"x":456,"y":51,"v":100},{"x":472,"y":51,"v":105},{"x":488,"y":51,"v":109},{"x":504,"y":51,"v":114},{"x":520,"y":51,"v":118},{"x":536,"y":51,"v":123},{"x":552,"y":51,"v":127},{"x":568,"y":51,"v":132},{"x":584,"y":51,"v":137},{"x":600,"y":51,"v":141},{"x":616,"y":51,"v":146},{"x":632,"y":51,"v":150},{"x":648,"y":51,"v":150},{"x":664,"y":51,"v":150},{"x":680,"y":51,"v":150},{"x":696,"y":51,"v":150},{"x":712,"y":51,"v":150},{"x":728,"y":51,"v":150},{"x":744,"y":51,"v":150},{"x":760,"y":51,"v":150},{"x":776,"y":51,"v":150},{"x":792,"y":51,"v":150},
{"x":8,"y":53,"v":0},{"x":24,"y":53,"v":0},{"x":40,"y":53,"v":0},{"x":56,"y":53,"v":0},{"x":72,"y":53,"v":0},{"x":88,"y":53,"v":0},{"x":104,"y":53,"v":0},{"x":120,"y":53,"v":0},{"x":136,"y":53,"v":5},{"x":152,"y":53,"v":9},{"x":168,"y":53,"v":14},{"x":184,"y":53,"v":18},{"x":200,"y":53,"v":23},{"x":216,"y":53,"v":27},{"x":232,"y":53,"v":32},{"x":248,"y":53,"v":36},{"x":264,"y":53,"v":41},{"x":280,"y":53,"v":46},{"x":296,"y":53,"v":50},{"x":312,"y":53,"v":55},{"x":328,"y":53,"v":59},{"x":344,"y":53,"v":64},{"x":360,"y":53,"v":68},{"x":376,"y":53,"v":73},{"x":392,"y":53,"v":77},{"x":408,"y":53,"v":82},{"x":424,"y":53,"v":87},{"x":440,"y":53,"v":91},{"x":456,"y":53,"v":96},{"x":472,"y":53,"v":100},{"x":488,"y":53,"v":105},{"x":504,"y":53,"v":109},{"x":520,"y":53,"v":114},{"x":536,"y":53,"v":119},{"x":552,"y":53,"v":123},{"x":568,"y":53,"v":128},{"x":584,"y":53,"v":132},{"x":600,"y":53,"v":137},{"x":616,"y":53,"v":141},{"x":632,"y":53,"v":146},{"x":648,"y":53,"v":150},{"x":664,"y":53,"v":150},{"x":680,"y":53,"v":150},{"x":696,"y":53,"v":150},{"x":712,"y":53,"v":150},{"x":728,"y":53,"v":150},{"x":744,"y":53,"v":150},{"x":760,"y":53,"v":150},{"x":776,"y":53,"v":150},{"x":792,"y":53,"v":150},
{"x":8,"y":55,"v":0},{"x":24,"y":55,"v":0},{"x":40,"y":55,"v":0},{"x":56,"y":55,"v":0},{"x":72,"y":55,"v":0},{"x":88,"y":55,"v":0},{"x":104,"y":55,"v":0},{"x":120,"y":55,"v":0},{"x":136,"y":55,"v":0},{"x":152,"y":55,"v":5},{"x":168,"y":55,"v":9},{"x":184,"y":55,"v":14},{"x":200,"y":55,"v":18},{"x":216,"y":55,"v":23},{"x":232,"y":55,"v":28},{"x":248,"y":55,"v":32},{"x":264,"y":55,"v":37},{"x":280,"y":55,"v":41},{"x":296,"y":55,"v":46},{"x":312,"y":55,"v":50},{"x":328,"y":55,"v":55},{"x":344,"y":55,"v":59},{"x":360,"y":55,"v":64},{"x":376,"y":55,"v":69},{"x":392,"y":55,"v":73},{"x":408,"y":55,"v":78},{"x":424,"y":55,"v":82},{"x":440,"y":55,"v":87},{"x":456,"y":55,"v":91},{"x":472,"y":55,"v":96},{"x":488,"y":55,"v":100},{"x":504,"y":55,"v":105},{"x":520,"y":55,"v":110},{"x":536,"y":55,"v":114},{"x":552,"y":55,"v":119},{"x":568,"y":55,"v":123},{"x":584,"y":55,"v":128},{"x":600,"y":55,"v":132},{"x":616,"y":55,"v":137},{"x":632,"y":55,"v":142},{"x":648,"y":55,"v":146},{"x":664,"y":55,"v":150},{"x":680,"y":55,"v":150},{"x":696,"y":55,"v":150},{"x":712,"y":55,"v":150},{"x":728,"y":55,"v":150},{"x":744,"y":55,"v":150},{"x":760,"y":55,"v":150},{"x":776,"y":55,"v":150},{"x":792,"y":55,"v":150},
{"x":8,"y":57,"v":0},{"x":24,"y":57,"v":0},{"x":40,"y":57,"v":0},{"x":56,"y":57,"v":0},{"x":72,"y":57,"v":0},{"x":88,"y":57,"v":0},{"x":104,"y":57,"v":0},{"x":120,"y":57,"v":0},{"x":136,"y":57,"v":0},{"x":152,"y":57,"v":0},{"x":168,"y":57,"v":5},{"x":184,"y":57,"v":9},{"x":200,"y":57,"v":14},{"x":216,"y":57,"v":19},{"x":232,"y":57,"v":23},{"x":248,"y":57,"v":28},{"x":264,"y":57,"v":32},{"x":280,"y":57,"v":37},{"x":296,"y":57,"v":41},{"x":312,"y":57,"v":46},{"x":328,"y":57,"v":50},{"x":344,"y":57,"v":55},{"x":360,"y":57,"v":60},{"x":376,"y":57,"v":64},{"x":392,"y":57,"v":69},{"x":408,"y":57,"v":73},{"x":424,"y":57,"v":78},{"x":440,"y":57,"v":82},{"x":456,"y":57,"v":87},{"x":472,"y":57,"v":92},{"x":488,"y":57,"v":96},{"x":504,"y":57,"v":101},{"x":520,"y":57,"v":105},{"x":536,"y":57,"v":110},{"x":552,"y":57,"v":114},{"x":568,"y":57,"v":119},{"x":584,"y":57,"v":123},{"x":600,"y":57,"v":128},{"x":616,"y":57,"v":133},{"x":632,"y":57,"v":137},{"x":648,"y":57,"v":142},{"x":664,"y":57,"v":146},{"x":680,"y":57,"v":150},{"x":696,"y":57,"v":150},{"x":712,"y":57,"v":150},{"x":728,"y":57,"v":150},{"x":744,"y":57,"v":150},{"x":760,"y":57,"v":150},{"x":776,"y":57,"v":150},{"x":792,"y":57,"v":150},
{"x":8,"y":59,"v":0},{"x":24,"y":59,"v":0},{"x":40,"y":59,"v":0},{"x":56,"y":59,"v":0},{"x":72,"y":59,"v":0},{"x":88,"y":59,"v":0},{"x":104,"y":59,"v":0},{"x":120,"y":59,"v":0},{"x":136,"y":59,"v":0},{"x":152,"y":59,"v":0},{"x":168,"y":59,"v":0},{"x":184,"y":59,"v":5},{"x":200,"y":59,"v":10},{"x":216,"y":59,"v":14},{"x":232,"y":59,"v":19},{"x":248,"y":59,"v":23},{"x":264,"y":59,"v":28},{"x":280,"y":59,"v":32},{"x":296,"y":59,"v":37},{"x":312,"y":59,"v":42},{"x":328,"y":59,"v":46},{"x":344,"y":59,"v":51},{"x":360,"y":59,"v":55},{"x":376,"y":59,"v":60},{"x":392,"y":59,"v":64},{"x":408,"y":59,"v":69},{"x":424,"y":59,"v":73},{"x":440,"y":59,"v":78},{"x":456,"y":59,"v":83},{"x":472,"y":59,"v":87},{"x":488,"y":59,"v":92},{"x":504,"y":59,"v":96},{"x":520,"y":59,"v":101},{"x":536,"y":59,"v":105},{"x":552,"y":59,"v":110},{"x":568,"y":59,"v":114},{"x":584,"y":59,"v":119},{"x":600,"y":59,"v":124},{"x":616,"y":59,"v":128},{"x":632,"y":59,"v":133},{"x":648,"y":59,"v":137},{"x":664,"y":59,"v":142},{"x":680,"y":59,"v":146},{"x":696,"y":59,"v":150},{"x":712,"y":59,"v":150},{"x":728,"y":59,"v":150},{"x":744,"y":59,"v":150},{"x":760,"y":59,"v":150},{"x":776,"y":59,"v":150},{"x":792,"y":59,"v":150}
]},
"data": {"name": "cells"},
"layer": [
 {
  "mark": {"type": "rect", "filled": false, "strokeWidth": 1.5},
  "encoding": {
   "x": {"field": "x", "type": "quantitative", "bin": {"step": 16, "extent": [0, 800]}, "scale": {"domain": [0, 800], "nice": false},
     "axis": {"orient": "top", "values": [100, 200, 300, 400, 500, 600, 700], "labels": false, "title": null}},
   "y": {"field": "y", "type": "quantitative", "bin": {"step": 2, "extent": [0, 60]}, "scale": {"domain": [0, 60], "nice": false},
     "axis": {"orient": "right", "values": [10, 20, 30, 40, 50], "labels": false, "title": null}},
   "stroke": {"field": "v", "type": "quantitative", "title": "edge", "scale": {"domain": [-0.01, 41, 150], "range": ["#00cc33", "#f2ea1a", "#ff0000"], "clamp": true}, "legend": null}
  }
 },
 {
  "mark": {"type": "rect"},
  "encoding": {
   "x": {"field": "x", "type": "quantitative", "bin": {"step": 16, "extent": [0, 800]}, "scale": {"domain": [0, 800], "nice": false}, "title": "Traffic Volume (vph)",
     "axis": {"orient": "bottom", "values": [100, 200, 300, 400, 500, 600, 700, 800], "labelFontSize": 24, "labelPadding": 13, "labelFlush": true, "titleFontSize": 27, "titlePadding": 13, "titleX": 522}},
   "y": {"field": "y", "type": "quantitative", "bin": {"step": 2, "extent": [0, 60]}, "scale": {"domain": [0, 60], "nice": false}, "title": "Speed Limit (mph)",
     "axis": {"orient": "left", "values": [10, 20, 30, 40, 50, 60], "labelFontSize": 24, "labelAngle": -90, "labelAlign": "center", "labelBaseline": "bottom", "labelPadding": 11, "labelOffset": 3, "titleFontSize": 32, "titlePadding": 3, "titleY": 181}},
   "color": {"field": "v", "type": "quantitative", "scale": {"domain": [0, 41, 150], "range": ["#00cc33", "#f2ea1a", "#ff0000"], "clamp": true},
     "legend": {"title": null, "orient": "right", "offset": 19, "direction": "vertical", "gradientLength": 389, "gradientThickness": 19, "values": [0, 150], "labelFontSize": 29, "labelOffset": 11, "gradientStrokeColor": "#888", "gradientStrokeWidth": 1, "padding": 0}}
  }
 }
],
"resolve": {"axis": {"x": "independent", "y": "independent"}}
}
